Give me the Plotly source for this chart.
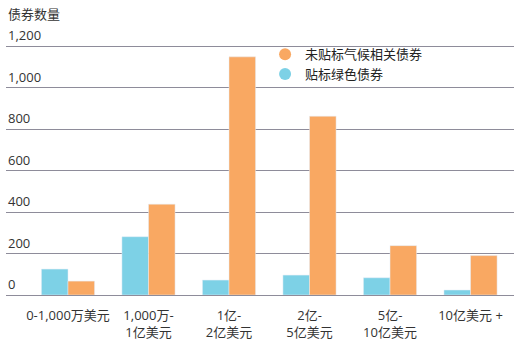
import plotly.graph_objects as go

categories = ["0-1,000万美元", "1,000万-<br>1亿美元", "1亿-<br>2亿美元", "2亿-<br>5亿美元", "5亿-<br>10亿美元", "10亿美元 +"]
green_bonds = [125, 281, 72, 96, 83, 24]
unlabelled = [67, 438, 1148, 862, 238, 190]
series_names = ["贴标绿色债券", "未贴标气候相关债券"]
y_ticks = [0, 200, 400, 600, 800, 1000, 1200]
y_ticktext = ["0", "200", "400", "600", "800", "1,000", "1,200"]
y_title = "债券数量"

blue = "#7dd1e6"
orange = "#f9a862"
font_family = "Open Sans, Lato, Noto Sans CJK SC, sans-serif"

fig = go.Figure()
fig.add_trace(go.Bar(x=categories, y=green_bonds, marker_color=blue, name=series_names[0], showlegend=False))
fig.add_trace(go.Bar(x=categories, y=unlabelled, marker_color=orange, name=series_names[1], showlegend=False))
# legend entries with circle markers
fig.add_trace(go.Scatter(x=[None], y=[None], mode="markers", marker=dict(color=orange, size=11, symbol="circle"), name=series_names[1]))
fig.add_trace(go.Scatter(x=[None], y=[None], mode="markers", marker=dict(color=blue, size=11, symbol="circle"), name=series_names[0]))

annotations = [dict(text=y_title, x=0, y=1, xref="paper", yref="paper", xanchor="left", yanchor="bottom",
                    yshift=19, showarrow=False, font=dict(size=13, color="#333333"))]
for v, t in zip(y_ticks, y_ticktext):
    annotations.append(dict(text=t, x=0, y=v, xref="paper", yref="y", xanchor="left", yanchor="bottom",
                            yshift=0, showarrow=False, font=dict(size=13, color="#333333")))

fig.update_layout(
    width=514, height=345,
    margin=dict(l=6, r=0, t=44, b=50),
    paper_bgcolor="white", plot_bgcolor="white",
    barmode="group", bargap=0.34, bargroupgap=0,
    font=dict(family=font_family, size=13, color="#333333"),
    showlegend=True,
    legend=dict(x=0.51, y=1.019, xanchor="left", yanchor="top", bgcolor="rgba(0,0,0,0)",
                font=dict(size=13, color="#222222"), tracegroupgap=0, itemsizing="constant"),
    xaxis=dict(type="category", range=[-0.77, 5.54], showgrid=False, showline=False, ticks="",
               tickfont=dict(size=13, color="#333333"), zeroline=False, ticklabelstandoff=11),
    yaxis=dict(range=[0, 1210], tickvals=y_ticks, showticklabels=False,
               showgrid=True, gridcolor="#8e8c9a", gridwidth=1.3, zeroline=True, zerolinecolor="#8e8c9a",
               zerolinewidth=1.3, showline=False, ticks=""),
    annotations=annotations,
)

fig.write_html("out.html")
